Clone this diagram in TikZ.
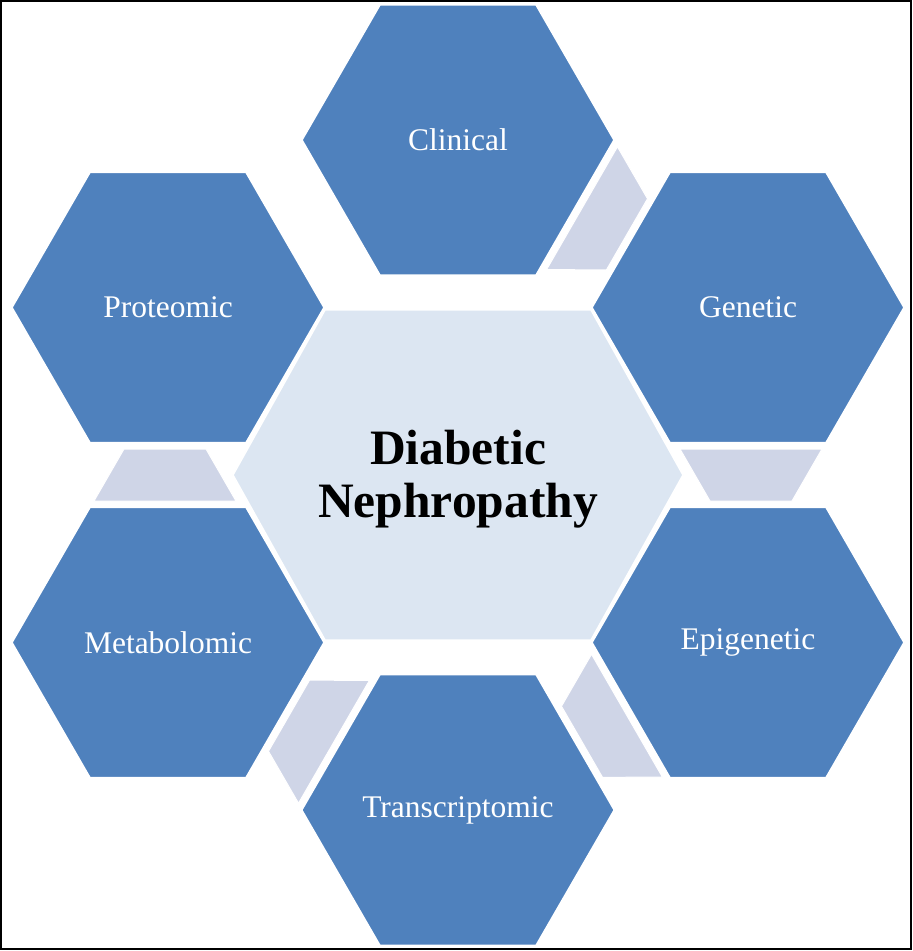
\documentclass[tikz,border=0pt]{standalone}
\usepackage{fontspec}
\setmainfont{Liberation Serif}
\usepackage{tikz}
\usetikzlibrary{positioning}
\usetikzlibrary{shapes.geometric}
\definecolor{hexblue}{HTML}{4F81BD}
\definecolor{corefill}{HTML}{DCE6F2}
\definecolor{linkfill}{HTML}{CFD5E7}
\tikzstyle{outerhex} = [regular polygon, regular polygon sides=6, minimum size=312pt,
                inner sep=0pt, fill=hexblue, draw=white, line width=1.5pt, text=white,
                font=\fontsize{31.5}{36}\selectfont]
\tikzstyle{corehex} = [fill=corefill, draw=white, line width=1.5pt]
\tikzstyle{link} = [fill=linkfill, draw=white, line width=1pt]

\begin{document}
\begin{tikzpicture}[x=1pt, y=1pt]
            \useasboundingbox (-458,-476) rectangle (455,475);
            \draw[line width=2pt] (-457,-474) rectangle (453,474);
            \path[corehex] (-225,0) -- (-133,165) -- (133,165) -- (225,0) -- (133,-165) -- (-133,-165) -- cycle;
            \node[align=center, font=\fontsize{49.5}{53}\selectfont\bfseries](core) at (0,-4){Diabetic\\Nephropathy};
            \node[outerhex, on grid, above=339pt of core](clinical){Clinical};
            \node[outerhex, on grid, above right=171.5pt and 290pt of core](genetic){Genetic};
            \node[outerhex, on grid, below right=163.5pt and 290pt of core](epigenetic){Epigenetic};
            \node[outerhex, on grid, below=331pt of core](transcriptomic){Transcriptomic};
            \node[outerhex, on grid, below left=163.5pt and 290pt of core](metabolomic){Metabolomic};
            \node[outerhex, on grid, above left=171.5pt and 290pt of core](proteomic){Proteomic};
            \path[link, rotate=60] (222,26) -- (364,26) -- (334,-26) -- (252,-26) -- cycle;
            \path[link] (222,26) -- (364,26) -- (334,-26) -- (252,-26) -- cycle;
            \path[link, rotate=-60] (222,26) -- (364,26) -- (334,-26) -- (252,-26) -- cycle;
            \path[link, rotate=-120] (222,26) -- (364,26) -- (334,-26) -- (252,-26) -- cycle;
            \path[link, rotate=180] (222,26) -- (364,26) -- (334,-26) -- (252,-26) -- cycle;
        \end{tikzpicture}
\end{document}
